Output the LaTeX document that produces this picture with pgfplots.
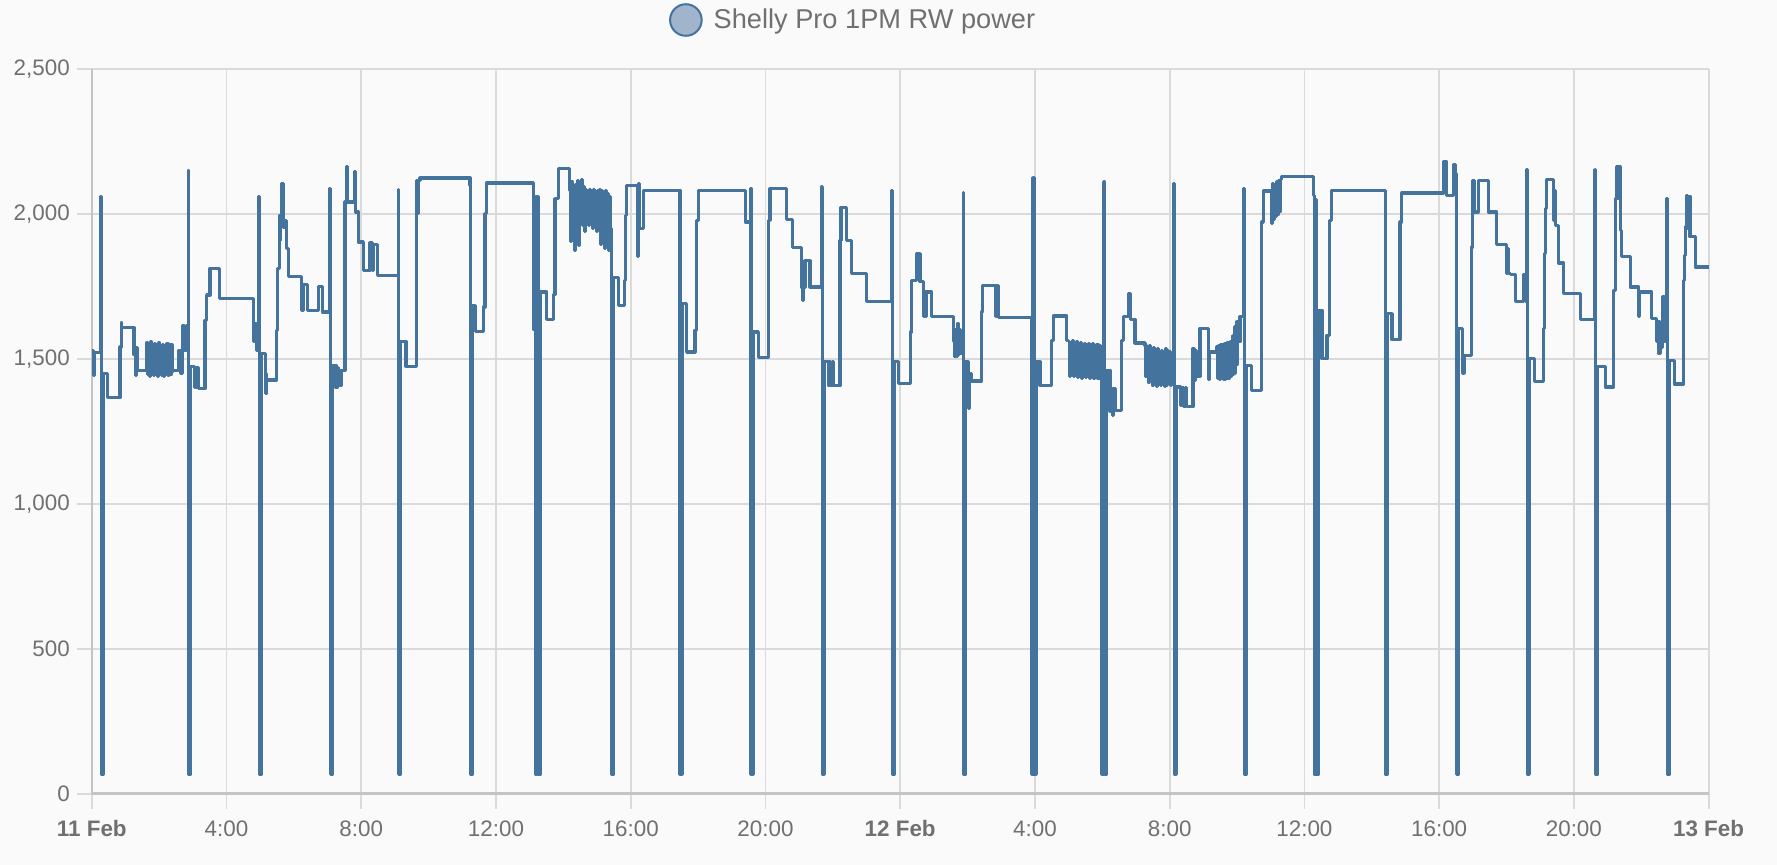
\documentclass[border=0pt]{standalone}
\usepackage{pgfplots}
\pgfplotsset{compat=1.18}
\usepackage{fontspec}
\setmainfont{Liberation Sans}
\definecolor{bgcol}{HTML}{FAFAFA}
\definecolor{linecol}{HTML}{44739E}
\definecolor{legfill}{HTML}{A0B5CC}
\definecolor{gridcol}{HTML}{DADADA}
\definecolor{axcol}{HTML}{C4C4C4}
\definecolor{txtcol}{HTML}{707070}
\begin{document}
\begin{tikzpicture}
\fill[bgcol, use as bounding box] (-45.9pt,-35.65pt) rectangle (842.6pt,396.85pt);
\begin{axis}[
  at={(0pt,0pt)}, anchor=south west,
  scale only axis, width=808.4pt, height=362.35pt,
  xmin=0, xmax=48, ymin=0, ymax=2500,
  axis x line=bottom, axis y line=left,
  x axis line style={-, draw=axcol, line width=1.4pt},
  y axis line style={-, draw=axcol, line width=0.9pt},
  xtick={0,4,...,48},
  xticklabels={\textbf{11 Feb},4:00,8:00,12:00,16:00,20:00,\textbf{12 Feb},4:00,8:00,12:00,16:00,20:00,\textbf{13 Feb}},
  ytick={0,500,1000,1500,2000,2500},
  yticklabels={0,500,{1,000},{1,500},{2,000},{2,500}},
  tick align=outside, major tick length=7.5pt,
  tick style={draw=gridcol, line width=0.9pt},
  grid=major, major grid style={draw=gridcol, line width=0.9pt},
  ticklabel style={font=\fontsize{11.2}{13}\selectfont, text=txtcol},
  xticklabel style={yshift=-2.5pt},
  yticklabel style={xshift=0pt},
  legend style={at={(axis description cs:0.4715,1.0676)}, anchor=center, draw=none, fill=none,
    font=\fontsize{13.6}{15}\selectfont, text=txtcol, inner sep=0pt,
    /tikz/every odd column/.append style={column sep=3.5pt}},
  legend image code/.code={\draw[draw=linecol, fill=legfill, line width=1pt] (0pt,0pt) circle (7.9pt);},
  clip=false,
]
\addplot[const plot, draw=linecol, line width=1.6pt, line join=round] table {
x y
0.00 1530
0.04 1444
0.08 1522
0.26 2061
0.28 68
0.34 1450
0.47 1366
0.84 1541
0.87 1624
0.89 1607
1.25 1515
1.30 1444
1.33 1540
1.36 1461
1.63 1555
1.66 1445
1.69 1550
1.72 1440
1.75 1558
1.78 1450
1.81 1545
1.84 1442
1.87 1552
1.90 1447
1.93 1549
1.96 1440
1.99 1555
2.02 1452
2.05 1540
2.08 1444
2.11 1550
2.14 1440
2.17 1545
2.20 1449
2.23 1552
2.26 1443
2.29 1538
2.32 1445
2.35 1548
2.38 1455
2.39 1461
2.57 1530
2.63 1449
2.70 1616
2.76 1530
2.80 1616
2.86 2148
2.88 68
2.94 1473
3.05 1400
3.08 1470
3.11 1400
3.14 1470
3.17 1398
3.36 1633
3.41 1720
3.51 1812
3.78 1708
4.80 1560
4.86 1622
4.90 1530
4.96 2059
4.98 68
5.04 1519
5.15 1380
5.17 1450
5.19 1427
5.49 1599
5.52 1812
5.57 1909
5.59 1995
5.64 2105
5.69 1955
5.74 1978
5.79 1880
5.84 1785
6.23 1668
6.28 1756
6.41 1666
6.73 1751
6.85 1662
7.07 2087
7.09 68
7.15 1478
7.25 1400
7.28 1470
7.31 1410
7.34 1460
7.37 1410
7.42 1461
7.52 2041
7.56 2164
7.59 2041
7.80 2145
7.83 2007
7.91 1903
8.06 1806
8.26 1900
8.33 1806
8.37 1895
8.49 1788
9.10 2084
9.11 68
9.17 1559
9.33 1475
9.65 2116
9.67 2001
9.70 2116
9.745 2124
11.23 2100
11.25 68
11.31 1685
11.40 1595
11.625 1679
11.675 2001
11.724 2107
13.11 1984
13.13 1600
13.16 2059
13.18 68
13.22 2059
13.26 68
13.32 1731
13.50 1636
13.70 1723
13.75 2053
13.85 2156
14.18 2080
14.21 1905
14.24 2110
14.27 1950
14.30 2090
14.33 1875
14.36 2100
14.39 1960
14.42 2116
14.45 1890
14.48 2105
14.51 1980
14.54 2120
14.57 1960
14.60 2095
14.63 1940
14.66 2085
14.69 1990
14.72 2075
14.75 1960
14.78 2085
14.81 1990
14.84 2080
14.87 1950
14.90 2085
14.93 1975
14.96 2075
14.99 1940
15.02 2080
15.05 1960
15.08 2085
15.11 1895
15.14 2080
15.17 1920
15.20 2075
15.23 1880
15.26 2080
15.29 1900
15.32 2070
15.35 1875
15.38 2060
15.41 1950
15.44 68
15.50 1780
15.63 1685
15.81 1771
15.85 1995
15.88 2097
16.20 1852
16.24 2105
16.27 1950
16.37 2082
17.46 68
17.52 1691
17.66 1524
17.91 1599
17.96 1978
18.01 2082
19.40 1972
19.55 2087
19.57 68
19.63 1593
19.79 1505
20.09 1978
20.136 2087
20.63 1982
20.80 1884
21.06 1748
21.10 1700
21.13 1748
21.175 1838
21.324 1748
21.67 2093
21.69 68
21.75 1490
21.86 1410
21.90 1490
21.94 1410
21.98 1490
22.02 1407
22.215 1909
22.24 2022
22.413 1909
22.56 1794
23.006 1697
23.75 2082
23.77 68
23.83 1490
23.95 1415
24.30 1593
24.34 1771
24.49 1863
24.59 1766
24.69 1645
24.72 1731
24.76 1645
24.79 1731
24.94 1645
25.58 1560
25.61 1510
25.64 1600
25.67 1507
25.70 1620
25.73 1515
25.76 1600
25.79 1520
25.87 2074
25.89 68
25.95 1490
26.03 1330
26.06 1450
26.12 1424
26.42 1662
26.44 1752
26.82 1645
26.84 1752
26.87 1645
26.90 1752
26.92 1643
27.90 68
27.94 2125
27.97 68
28.03 1490
28.15 1409
28.50 1564
28.55 1648
28.945 1564
29.00 1560
29.03 1440
29.06 1555
29.09 1445
29.12 1562
29.15 1438
29.18 1550
29.21 1442
29.24 1558
29.27 1436
29.30 1552
29.33 1440
29.36 1556
29.39 1432
29.42 1550
29.45 1441
29.48 1553
29.51 1436
29.54 1548
29.57 1440
29.60 1554
29.63 1433
29.66 1549
29.69 1438
29.72 1552
29.75 1434
29.78 1547
29.81 1438
29.84 1550
29.87 1432
29.90 1545
29.93 1440
29.96 1540
29.99 68
30.04 2110
30.07 68
30.13 1461
30.23 1320
30.27 1398
30.30 1306
30.33 1398
30.38 1323
30.58 1564
30.63 1645
30.776 1725
30.83 1636
30.97 1555
31.27 1547
31.30 1440
31.33 1540
31.36 1420
31.39 1545
31.42 1430
31.45 1530
31.48 1410
31.51 1540
31.54 1425
31.57 1520
31.60 1405
31.63 1535
31.66 1415
31.69 1525
31.72 1408
31.75 1530
31.78 1420
31.81 1520
31.84 1405
31.87 1536
31.90 1410
31.93 1530
31.96 1420
31.99 1525
32.02 1409
32.05 1515
32.08 1420
32.12 2105
32.14 68
32.20 1403
32.31 1340
32.36 1400
32.41 1335
32.46 1400
32.51 1335
32.69 1536
32.73 1426
32.76 1530
32.80 1440
32.90 1605
33.15 1430
33.17 1524
33.40 1541
33.43 1432
33.46 1545
33.49 1428
33.52 1548
33.55 1435
33.58 1550
33.61 1430
33.64 1553
33.67 1438
33.70 1555
33.73 1432
33.76 1556
33.79 1440
33.82 1560
33.85 1445
33.88 1580
33.91 1450
33.94 1610
33.97 1480
34.00 1628
34.04 1560
34.09 1645
34.20 2087
34.22 68
34.28 1478
34.42 1390
34.735 1972
34.78 2079
35.03 1967
35.06 2105
35.09 1980
35.12 2100
35.15 1990
35.18 2110
35.21 2000
35.24 2115
35.27 2010
35.30 2120
35.33 2128
36.27 2064
36.29 68
36.33 2050
36.36 68
36.42 1668
36.52 1501
36.67 1582
36.74 1978
36.81 2082
38.40 68
38.46 1656
38.60 1567
38.84 1972
38.89 2072
40.13 2179
40.16 2074
40.19 2179
40.23 2064
40.43 2171
40.48 2139
40.52 68
40.58 1605
40.70 1450
40.74 1513
40.97 1886
41.00 2116
41.05 2007
41.168 2116
41.465 2007
41.712 1895
42.009 1794
42.04 1880
42.07 1794
42.108 1791
42.257 1697
42.50 1789
42.56 1697
42.60 2153
42.62 68
42.68 1501
42.82 1421
43.098 1605
43.12 1863
43.147 2018
43.197 2118
43.395 1978
43.42 2080
43.444 1961
43.543 1831
43.692 1725
44.186 1637
44.63 2153
44.65 68
44.71 1475
44.93 1403
45.176 1737
45.225 2053
45.275 2162
45.30 2053
45.32 2162
45.374 1944
45.42 1852
45.671 1748
45.918 1645
45.95 1731
46.314 1639
46.463 1560
46.50 1630
46.53 1518
46.56 1600
46.60 1540
46.63 1714
46.70 1560
46.76 2053
46.78 68
46.84 1495
46.98 1413
47.255 1771
47.28 1857
47.304 1958
47.35 2064
47.38 1950
47.42 2060
47.45 1921
47.60 1817
48.00 1817
};
\addlegendentry{Shelly Pro 1PM RW power}
\end{axis}
\end{tikzpicture}
\end{document}
